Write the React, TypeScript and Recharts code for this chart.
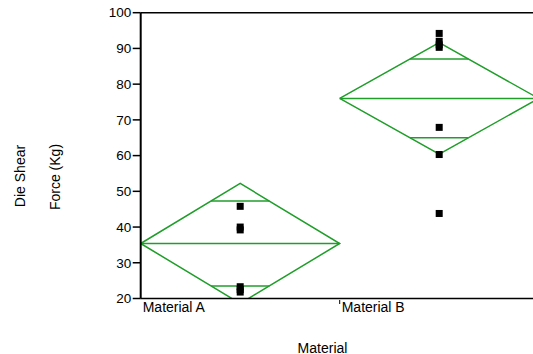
import {
  ComposedChart,
  Line,
  Scatter,
  XAxis,
  YAxis,
  ReferenceLine,
} from "recharts";

const categories = ["Material A", "Material B"];
const materialA = [45.8, 40.0, 39.2, 23.3, 22.5, 21.8];
const materialB = [94.2, 92.0, 91.0, 90.3, 67.9, 60.3, 43.8];
const means = [35.4, 76.0];
const ciUpper = [52.2, 91.6];
const ciLower = [18.6, 60.4];
const yTicks = [20, 30, 40, 50, 60, 70, 80, 90, 100];

const GREEN = "#1f9e2a";
const FONT = "'Liberation Sans', Arial, sans-serif";

interface Pt {
  x: number;
  y: number;
}

// means diamond: outline, mean line and the two overlap marks for group i
function diamondSegments(i: number): Pt[][] {
  const k = Math.SQRT1_2;
  const cx = i + 0.5;
  const m = means[i];
  const up = ciUpper[i];
  const lo = ciLower[i];
  const hw = 0.5 * (1 - k);
  return [
    [
      { x: i, y: m },
      { x: cx, y: up },
      { x: i + 1, y: m },
      { x: cx, y: lo },
      { x: i, y: m },
    ],
    [
      { x: i, y: m },
      { x: i + 1, y: m },
    ],
    [
      { x: cx - hw, y: m + (up - m) * k },
      { x: cx + hw, y: m + (up - m) * k },
    ],
    [
      { x: cx - hw, y: m - (m - lo) * k },
      { x: cx + hw, y: m - (m - lo) * k },
    ],
  ];
}

const segments = [0, 1].flatMap(diamondSegments);
const points = [
  ...materialA.map((v) => ({ x: 0.5, y: v })),
  ...materialB.map((v) => ({ x: 1.5, y: v })),
];

function XTick({ x, y, payload }: any) {
  return (
    <g>
      {payload.value > 0 && (
        <line x1={x} x2={x} y1={y + 1.5} y2={y + 5.5} stroke="#000" strokeWidth={1} />
      )}
      <text x={x + 2} y={y + 13} fontSize={14} fill="#000" textAnchor="start">
        {categories[payload.value]}
      </text>
    </g>
  );
}

function Square({ cx, cy }: any) {
  return <rect x={cx - 3.5} y={cy - 3.5} width={7} height={7} fill="#000" />;
}

function YLabel() {
  return (
    <g fontSize={14} fill="#000">
      <text x={25} y={176} transform="rotate(-90, 25, 176)" textAnchor="middle">
        Die Shear
      </text>
      <text x={60} y={177} transform="rotate(-90, 60, 177)" textAnchor="middle">
        Force (Kg)
      </text>
    </g>
  );
}

function XLabel() {
  return (
    <text x={322.5} y={352.5} fontSize={14} fill="#000" textAnchor="middle">
      Material
    </text>
  );
}

export default function App() {
  return (
    <div
      style={{
        position: "absolute",
        left: 0,
        top: 0,
        width: 533,
        height: 354,
        overflow: "hidden",
        background: "#fff",
        fontFamily: FONT,
      }}
    >
      <ComposedChart
        width={560}
        height={354}
        margin={{ top: 12.7, right: 21.3, bottom: 0, left: 0 }}
        style={{ fontFamily: FONT }}
      >
        <XAxis
          dataKey="x"
          type="number"
          domain={[0, 2]}
          ticks={[0, 1]}
          height={55.5}
          tickSize={0}
          tickMargin={0}
          axisLine={{ stroke: "#000", strokeWidth: 1.5 }}
          tickLine={false}
          tick={<XTick />}
          label={<XLabel />}
        />
        <YAxis
          dataKey="y"
          type="number"
          domain={[20, 100]}
          ticks={yTicks}
          allowDataOverflow
          width={140.7}
          tickSize={8}
          tickMargin={1.5}
          axisLine={{ stroke: "#000", strokeWidth: 2 }}
          tickLine={{ stroke: "#000", strokeWidth: 1.5 }}
          tick={{ fontSize: 13.5, fill: "#000" }}
          label={<YLabel />}
        />
        <ReferenceLine y={100} stroke="#000" strokeWidth={1.5} />
        {segments.map((seg, i) => (
          <Line
            key={i}
            data={seg}
            dataKey="y"
            type="linear"
            stroke={GREEN}
            strokeWidth={1.5}
            dot={false}
            activeDot={false}
            isAnimationActive={false}
          />
        ))}
        <Scatter data={points} dataKey="y" shape={<Square />} isAnimationActive={false} />
      </ComposedChart>
    </div>
  );
}
